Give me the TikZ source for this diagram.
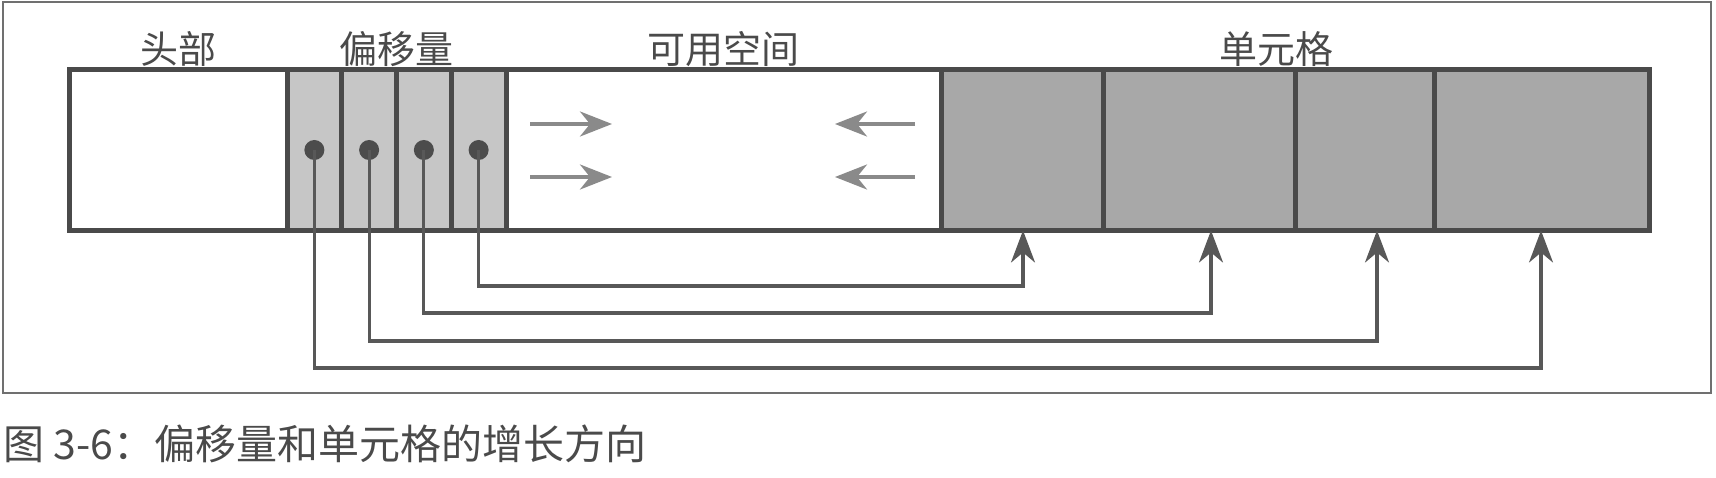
\documentclass[tikz,border=0pt]{standalone}
\usepackage{fontspec}
\newfontfamily\cjk{Noto Sans CJK SC}
\usetikzlibrary{positioning,arrows.meta}
\definecolor{edge}{HTML}{4A4A4A}
\definecolor{offgray}{HTML}{C6C6C6}
\definecolor{cellgray}{HTML}{A8A8A8}
\definecolor{dotgray}{HTML}{4C4C4C}
\definecolor{linkgray}{HTML}{585858}
\definecolor{arrgray}{HTML}{8A8A8A}
\definecolor{framegray}{HTML}{707070}
\definecolor{txt}{HTML}{4A4A4A}
\begin{document}
\begin{tikzpicture}[x=1pt,y=-1pt,
  box/.style={draw=edge,line width=5pt,minimum height=161pt,inner sep=0pt,outer sep=0pt},
  offs/.style={box,fill=offgray,minimum width=54.75pt},
  cell/.style={box,fill=cellgray},
  dot/.style={circle,fill=dotgray,minimum size=20pt,inner sep=0pt},
  link/.style={draw=linkgray,line width=3.2pt,-{Stealth[length=32pt,width=24pt,inset=10pt]}},
  growarrow/.style={draw=arrgray,line width=3.5pt,-{Stealth[length=32pt,width=25pt,inset=10pt]}},
  lbl/.style={font={\cjk\fontsize{38pt}{40pt}\selectfont},text=txt,inner sep=0pt}]
\useasboundingbox (0,0) rectangle (1716,478);
\draw[framegray,line width=2pt] (3,2) rectangle (1711,393);

\node[box,minimum width=218pt,anchor=west] (h) at (69,150) {};
\foreach \i/\j in {1/h,2/f1,3/f2,4/f3}
  \node[offs,right=0pt of \j] (f\i) {};
\node[box,minimum width=435pt,right=0pt of f4] (free) {};
\foreach \i/\j/\w in {1/free/162,2/c1/192,3/c2/139,4/c3/215}
  \node[cell,minimum width=\w pt,right=0pt of \j] (c\i) {};
\foreach \i in {1,...,4}
  \node[dot] (o\i) at (f\i.center) {};

\node[lbl] (lh) at (h |- 0,49) {头部};
\node[lbl] (lf) at (396,49) {偏移量};
\node[lbl] (lk) at (free |- 0,49) {可用空间};
\node[lbl] (lc) at (1276,49) {单元格};

\draw[growarrow] (530,124) -- (612,124);
\draw[growarrow] (530,177) -- (612,177);
\draw[growarrow] (915,124) -- (835,124);
\draw[growarrow] (915,177) -- (835,177);

\foreach \i/\c/\x/\y in {4/1/1023/286,3/2/1211/313,2/3/1377/341,1/4/1541/368}
{
  \coordinate (k\c) at (\x,\y);
  \draw[link] (o\i.center) |- (k\c) -- (k\c |- c\c.south);
}

\node[lbl,font={\cjk\fontsize{41pt}{44pt}\selectfont},anchor=west] (cap) at (3,444) {图 3-6：偏移量和单元格的增长方向};
\end{tikzpicture}
\end{document}
